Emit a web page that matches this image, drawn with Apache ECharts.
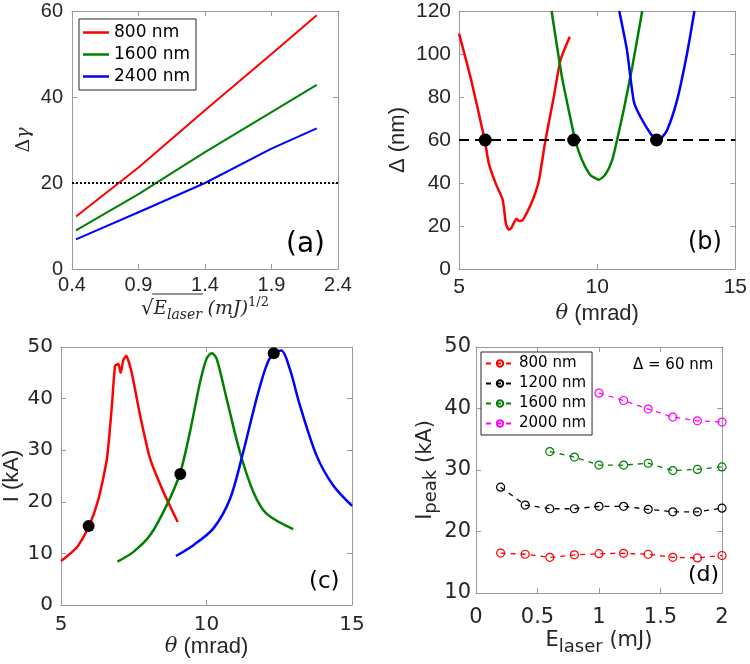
<!DOCTYPE html>
<html><head><meta charset="utf-8">
<script src="https://cdn.jsdelivr.net/npm/echarts@6/dist/echarts.min.js"></script>
<style>html,body{margin:0;padding:0;background:#fff}#c{width:750px;height:664px}</style>
</head><body><div id="c"></div>
<script>
// ---------- Panel (a): Δγ vs sqrt(E_laser) ----------
const aTicksX = [0.4, 0.9, 1.4, 1.9, 2.4];
const aTicksY = [0, 20, 40, 60];
const aX = [0.43, 0.9, 1.4, 1.9, 2.24];
const a800 = [12.2, 23.6, 36.9, 50.0, 59.0];
const a1600 = [9.0, 17.4, 27.2, 36.5, 42.8];
const a2400 = [6.9, 13.2, 20.0, 28.0, 32.7];
const aThreshold = 20;

// ---------- Panel (b): Δ vs θ ----------
const bTicksX = [5, 10, 15];
const bTicksY = [0, 20, 40, 60, 80, 100, 120];
const bRedTheta = [5.0, 5.42, 5.93, 6.08, 6.33, 6.57, 6.62, 6.7, 6.8, 6.9, 7.08, 7.17, 7.29, 7.47, 7.71, 7.89, 8.13, 8.43, 8.67, 9.01];
const bRedDelta = [109.5, 89, 60, 49, 39.7, 32.7, 29, 21, 18.3, 19.2, 23.4, 22.3, 22.6, 26.5, 33.5, 41, 60, 80, 97, 108];
const bGreenTheta = [8.35, 8.73, 9.1, 9.2, 9.46, 9.76, 10.0, 10.06, 10.3, 10.54, 10.72, 10.96, 11.27, 11.63];
const bGreenDelta = [120, 89, 66, 60, 50.5, 43.6, 41.8, 41.5, 44, 50.5, 60, 74, 94, 120];
const bBlueTheta = [10.8, 11.08, 11.33, 11.57, 11.93, 12.14, 12.3, 12.53, 12.89, 13.25, 13.52];
const bBlueDelta = [120, 101.7, 77.7, 70.7, 63, 60, 60.5, 64.5, 78.4, 100, 120];
const bDotTheta = [5.95, 9.15, 12.15];
const bDotDelta = [60, 60, 60];
const bThreshold = 60;

// ---------- Panel (c): I vs θ ----------
const cTicksX = [5, 10, 15];
const cTicksY = [0, 10, 20, 30, 40, 50];
const cRedTheta = [5.0, 5.55, 5.95, 6.29, 6.58, 6.75, 6.86, 6.97, 7.05, 7.14, 7.24, 7.43, 7.72, 8.06, 8.52, 9.01];
const cRedI = [8.5, 11.2, 15.1, 20.6, 28.4, 38.7, 46.4, 46.7, 45, 47.4, 48.3, 45, 36.7, 28.4, 21.9, 16.1];
const cGreenTheta = [6.94, 7.49, 8.06, 8.63, 9.09, 9.43, 9.78, 10.0, 10.18, 10.35, 10.69, 11.15, 11.61, 12.06, 12.98];
const cGreenI = [8.4, 10.3, 13.5, 19.3, 25.5, 33.5, 43.2, 47.7, 48.8, 47.7, 40, 29.6, 21.9, 17.7, 14.7];
const cBlueTheta = [8.95, 9.55, 10.23, 10.81, 11.26, 11.72, 12.06, 12.31, 12.57, 12.86, 13.21, 13.78, 14.35, 15.0];
const cBlueI = [9.5, 11.6, 14.8, 20.6, 29.6, 40, 46.4, 48.8, 49.3, 45.8, 38.7, 29, 23.2, 19.2];
const cDotTheta = [5.95, 9.1, 12.31];
const cDotI = [15.3, 25.4, 48.8];

// ---------- Panel (d): I_peak vs E_laser ----------
const dTicksX = [0, 0.5, 1, 1.5, 2];
const dTicksY = [10, 20, 30, 40, 50];
const dE800 = [0.2, 0.4, 0.6, 0.8, 1.0, 1.2, 1.4, 1.6, 1.8, 2.0];
const dI800 = [16.5, 16.3, 15.8, 16.2, 16.4, 16.45, 16.3, 15.8, 15.7, 16.1];
const dE1200 = [0.2, 0.4, 0.6, 0.8, 1.0, 1.2, 1.4, 1.6, 1.8, 2.0];
const dI1200 = [27.2, 24.3, 23.7, 23.7, 24.1, 24.1, 23.6, 23.2, 23.2, 23.8];
const dE1600 = [0.6, 0.8, 1.0, 1.2, 1.4, 1.6, 1.8, 2.0];
const dI1600 = [33.0, 32.1, 30.8, 30.8, 31.1, 29.9, 30.1, 30.5];
const dE2000 = [1.0, 1.2, 1.4, 1.6, 1.8, 2.0];
const dI2000 = [42.5, 41.3, 39.9, 38.6, 38.0, 37.8];

const seriesNames = {a800:'800 nm', a1600:'1600 nm', a2400:'2400 nm', d800:'800 nm', d1200:'1200 nm', d1600:'1600 nm', d2000:'2000 nm'};

const RED = '#ff0000', GREEN = '#008000', BLUE = '#0000ff', BLACK = '#000000', MAG = '#ff00ff';
const AXC = '#9a9a9a', TXT = '#262626';
const pair = (xs, ys) => xs.map((x, i) => [x, ys[i]]);

const chart = echarts.init(document.getElementById('c'));

function mkAxis(kind, grid, ticks, opts) {
  const main = {
    type: 'value', gridIndex: grid, min: ticks[0], max: ticks[ticks.length - 1],
    interval: ticks[1] - ticks[0],
    axisLine: {show: true, onZero: false, lineStyle: {color: AXC, width: 1}},
    axisTick: {show: true, inside: true, length: 5, lineStyle: {color: AXC}},
    splitLine: {show: false},
    axisLabel: Object.assign({color: TXT, fontSize: 21, fontFamily: 'Liberation Sans',
      formatter: v => opts.fmt ? opts.fmt(v) : String(+v.toFixed(2))}, opts.label || {}),
    name: opts.name || '', nameLocation: 'middle', nameGap: opts.nameGap || 20,
    nameRotate: kind === 'y' ? 90 : 0,
    nameTextStyle: opts.nameStyle || {},
    position: kind === 'x' ? 'bottom' : 'left'
  };
  const twin = {
    type: 'value', gridIndex: grid, min: main.min, max: main.max, interval: main.interval,
    position: kind === 'x' ? 'top' : 'right',
    axisLine: {show: true, onZero: false, lineStyle: {color: AXC, width: 1}},
    axisTick: {show: true, inside: true, length: 5, lineStyle: {color: AXC}},
    splitLine: {show: false}, axisLabel: {show: false}
  };
  return [main, twin];
}

// rich styles of the panel (a) x-axis name
const aNameRich = {
  sq: {fontFamily: 'DejaVu Serif', fontSize: 20, color: TXT, lineHeight: 26},
  e: {fontFamily: 'DejaVu Serif', fontStyle: 'italic', fontSize: 18, color: TXT, lineHeight: 26},
  sub: {fontFamily: 'DejaVu Serif', fontStyle: 'italic', fontSize: 14, color: TXT, lineHeight: 12, verticalAlign: 'bottom'},
  sp: {fontFamily: 'DejaVu Serif', fontSize: 18, color: TXT, lineHeight: 26},
  t: {fontFamily: 'DejaVu Serif', fontStyle: 'italic', fontSize: 19, color: TXT, lineHeight: 26},
  sup: {fontFamily: 'DejaVu Serif', fontSize: 13, color: TXT, lineHeight: 12, verticalAlign: 'top'}
};
const aNameParts = [['sq', '√'], ['e', 'E'], ['sub', 'laser'], ['sp', ' '], ['t', '(mJ)'], ['sup', '1/2']];

const xa = mkAxis('x', 0, aTicksX, {
  fmt: v => v.toFixed(1), label: {margin: 6, fontSize: 20},
  name: aNameParts.map(p => '{' + p[0] + '|' + p[1] + '}').join(''), nameGap: 20,
  nameStyle: {rich: aNameRich}
});
const ya = mkAxis('y', 0, aTicksY, {
  label: {margin: 9, fontSize: 20}, name: '{d|Δ}{g|γ}', nameGap: 38,
  nameStyle: {rich: {
    d: {fontFamily: 'DejaVu Serif', fontSize: 19, color: TXT},
    g: {fontFamily: 'DejaVu Serif', fontStyle: 'italic', fontSize: 19, color: TXT}
  }}
});
const thetaRich = {
  th: {fontFamily: 'DejaVu Serif', fontStyle: 'italic', fontSize: 21, color: TXT},
  t: {fontFamily: 'Liberation Sans', fontSize: 22, color: TXT}
};
const xb = mkAxis('x', 1, bTicksX, {label: {margin: 8}, name: '{th|θ}{t| (mrad)}', nameGap: 34, nameStyle: {rich: thetaRich}});
const yb = mkAxis('y', 1, bTicksY, {label: {margin: 8}, name: 'Δ (nm)', nameGap: 50,
  nameStyle: {fontFamily: 'Liberation Sans', fontSize: 22, color: TXT}});
const xc = mkAxis('x', 2, cTicksX, {label: {margin: 10, fontFamily: 'DejaVu Sans', fontSize: 20}, name: '{th|θ}{t| (mrad)}', nameGap: 28, nameStyle: {rich: thetaRich}});
const yc = mkAxis('y', 2, cTicksY, {label: {margin: 8, fontFamily: 'DejaVu Sans', fontSize: 20}, name: 'I (kA)', nameGap: 38,
  nameStyle: {fontFamily: 'Liberation Sans', fontSize: 22, color: TXT}});
const xd = mkAxis('x', 3, dTicksX, {label: {margin: 14, fontFamily: 'DejaVu Sans', fontSize: 21}, fmt: v => String(+v.toFixed(1)),
  name: '{m|E}{sub|laser}{m| (mJ)}', nameGap: 33,
  nameStyle: {rich: {
    m: {fontFamily: 'DejaVu Sans', fontSize: 21, color: TXT, lineHeight: 30},
    sub: {fontFamily: 'DejaVu Sans', fontSize: 18, color: TXT, lineHeight: 16, verticalAlign: 'bottom'}
  }}});
const yd = mkAxis('y', 3, dTicksY, {label: {margin: 5, fontFamily: 'DejaVu Sans', fontSize: 21},
  name: '{m|I}{sub|peak}{m| (kA)}', nameGap: 34,
  nameStyle: {rich: {
    m: {fontFamily: 'DejaVu Sans', fontSize: 21, color: TXT, lineHeight: 30},
    sub: {fontFamily: 'DejaVu Sans', fontSize: 18, color: TXT, lineHeight: 16, verticalAlign: 'bottom'}
  }}});

const xAxes = [xa[0], xb[0], xc[0], xd[0], xa[1], xb[1], xc[1], xd[1]];
const yAxes = [ya[0], yb[0], yc[0], yd[0], ya[1], yb[1], yc[1], yd[1]];

function line(name, xi, xs, ys, color, width, extra) {
  return Object.assign({
    type: 'line', name: name, xAxisIndex: xi, yAxisIndex: xi, data: pair(xs, ys),
    showSymbol: false, symbol: 'none', color: color,
    lineStyle: {color: color, width: width}, silent: true, animation: false, z: 3
  }, extra || {});
}
function dots(xi, xs, ys, size) {
  return {type: 'scatter', xAxisIndex: xi, yAxisIndex: xi, data: pair(xs, ys), symbolSize: size,
    itemStyle: {color: '#000', opacity: 1}, silent: true, animation: false, z: 5};
}
function dline(name, xs, ys, color) {
  return {type: 'line', name: name, xAxisIndex: 3, yAxisIndex: 3, data: pair(xs, ys),
    symbol: 'circle', symbolSize: 8, color: color,
    itemStyle: {color: 'rgba(255,255,255,0)', borderColor: color, borderWidth: 1.2},
    lineStyle: {color: color, width: 1.3, type: [5, 5]}, silent: true, animation: false, z: 3};
}

const series = [
  line('a800', 0, aX, a800, RED, 2, {markLine: {silent: true, symbol: ['none', 'none'], animation: false,
    label: {show: false}, lineStyle: {color: '#000', width: 2, type: [2, 2]}, data: [{yAxis: aThreshold}]}}),
  line('a1600', 0, aX, a1600, GREEN, 2),
  line('a2400', 0, aX, a2400, BLUE, 2),
  line('b800', 1, bRedTheta, bRedDelta, RED, 2.5, {smooth: 0.2, markLine: {silent: true, symbol: ['none', 'none'], animation: false,
    label: {show: false}, lineStyle: {color: '#000', width: 2, type: [10, 6]}, data: [{yAxis: bThreshold}]}}),
  line('b1600', 1, bGreenTheta, bGreenDelta, GREEN, 2.5, {smooth: 0.2}),
  line('b2400', 1, bBlueTheta, bBlueDelta, BLUE, 2.5, {smooth: 0.2}),
  dots(1, bDotTheta, bDotDelta, 13),
  line('c800', 2, cRedTheta, cRedI, RED, 2.5, {smooth: 0.2}),
  line('c1600', 2, cGreenTheta, cGreenI, GREEN, 2.5, {smooth: 0.3}),
  line('c2400', 2, cBlueTheta, cBlueI, BLUE, 2.5, {smooth: 0.3}),
  dots(2, cDotTheta, cDotI, 12),
  dline('d800', dE800, dI800, RED),
  dline('d1200', dE1200, dI1200, BLACK),
  dline('d1600', dE1600, dI1600, GREEN),
  dline('d2000', dE2000, dI2000, MAG)
];

// overline of the square root in panel (a) x-axis name (decoration measured from the text itself)
const mctx = document.createElement('canvas').getContext('2d');
function tw(style, s) {
  mctx.font = (style.fontStyle || 'normal') + ' ' + style.fontSize + 'px "' + style.fontFamily + '"';
  return mctx.measureText(s).width;
}
const aWidths = aNameParts.map(p => tw(aNameRich[p[0]], p[1]));
const aTotal = aWidths.reduce((s, w) => s + w, 0);
const aGrid = {left: 72, top: 11, width: 266, height: 258};
const aStart = aGrid.left + aGrid.width / 2 - aTotal / 2;
const barX0 = aStart + aWidths[0] - 1.5;
const barX1 = aStart + aWidths[0] + aWidths[1] + aWidths[2] + 1;
const barY = aGrid.top + aGrid.height + 20 + 5;

const option = {
  backgroundColor: '#fff',
  animation: false,
  grid: [
    aGrid,
    {left: 459, top: 11, width: 277, height: 258},
    {left: 61, top: 347, width: 291, height: 258},
    {left: 476, top: 347, width: 246, height: 246}
  ],
  xAxis: xAxes,
  yAxis: yAxes,
  legend: [
    {data: ['a800', 'a1600', 'a2400'].map(n => ({name: n, icon: 'rect'})), formatter: n => seriesNames[n], orient: 'vertical', left: 79, top: 19,
      padding: [5, 6, 5, 4], itemWidth: 26, itemHeight: 2.5, itemGap: 5, selectedMode: false,
      borderColor: '#262626', borderWidth: 1, backgroundColor: '#fff',
      textStyle: {fontFamily: 'DejaVu Sans', fontSize: 17, color: '#000', lineHeight: 17}},
    {data: ['d800', 'd1200', 'd1600', 'd2000'], formatter: n => seriesNames[n], orient: 'vertical', left: 481, top: 352,
      padding: [4, 6, 4, 4], itemWidth: 28, itemHeight: 8, itemGap: 5, selectedMode: false,
      borderColor: '#262626', borderWidth: 1, backgroundColor: '#fff',
      textStyle: {fontFamily: 'DejaVu Sans', fontSize: 15, color: '#000'}}
  ],
  graphic: [
    {type: 'line', shape: {x1: barX0, y1: barY, x2: barX1, y2: barY}, style: {stroke: TXT, lineWidth: 1}, z: 10},
    {type: 'text', left: 286, top: 231, style: {text: '(a)', font: '28px "DejaVu Sans"', fill: '#000'}, z: 10},
    {type: 'text', left: 688, top: 231, style: {text: '(b)', font: '24px "DejaVu Sans"', fill: '#000'}, z: 10},
    {type: 'text', left: 309, top: 571, style: {text: '(c)', font: '23px "DejaVu Sans"', fill: '#000'}, z: 10},
    {type: 'text', left: 688, top: 564, style: {text: '(d)', font: '22px "DejaVu Sans"', fill: '#000'}, z: 10},
    {type: 'text', left: 633, top: 358, style: {text: 'Δ = 60 nm', font: '15px "DejaVu Sans"', fill: '#000'}, z: 10}
  ],
  series: series
};
chart.setOption(option);
</script>
</body></html>
